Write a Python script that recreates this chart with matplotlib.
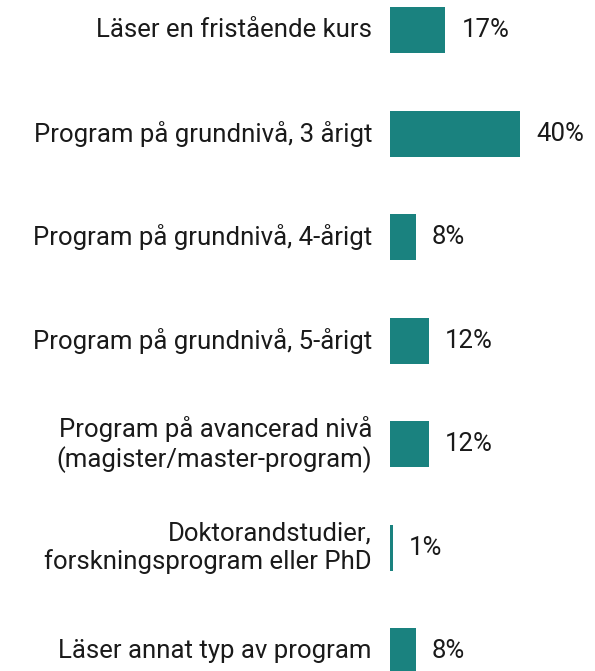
import numpy as np
import matplotlib.pyplot as plt

categories = [
    "Läser en fristående kurs",
    "Program på grundnivå, 3 årigt",
    "Program på grundnivå, 4-årigt",
    "Program på grundnivå, 5-årigt",
    "Program på avancerad nivå\n(magister/master-program)",
    "Doktorandstudier,\nforskningsprogram eller PhD",
    "Läser annat typ av program",
]
values = [17, 40, 8, 12, 12, 1, 8]

plt.rcParams['font.family'] = ['Roboto', 'DejaVu Sans']
color = '#1a827f'
textcol = '#1a1a1a'

fig = plt.figure(figsize=(5.95, 6.71), dpi=100)
ax = fig.add_axes([390 / 595, 0, 1 - 390 / 595, 1])

y = np.arange(len(categories))
ax.barh(y, values, height=0.445, color=color)
ax.set_xlim(0, 63)
ax.set_ylim(6.19, -0.29)
ax.axis('off')

for yi, cat, v in zip(y, categories, values):
    ax.annotate(cat, xy=(0, yi), xytext=(-18, 0), textcoords='offset pixels',
                ha='right', va='center', multialignment='right',
                fontsize=18.5, color=textcol, linespacing=1.2)
    ax.annotate(f"{v}%", xy=(v, yi), xytext=(16, 0), textcoords='offset pixels',
                ha='left', va='center', fontsize=18.5, color=textcol)

fig.savefig('out.png', dpi=100)
